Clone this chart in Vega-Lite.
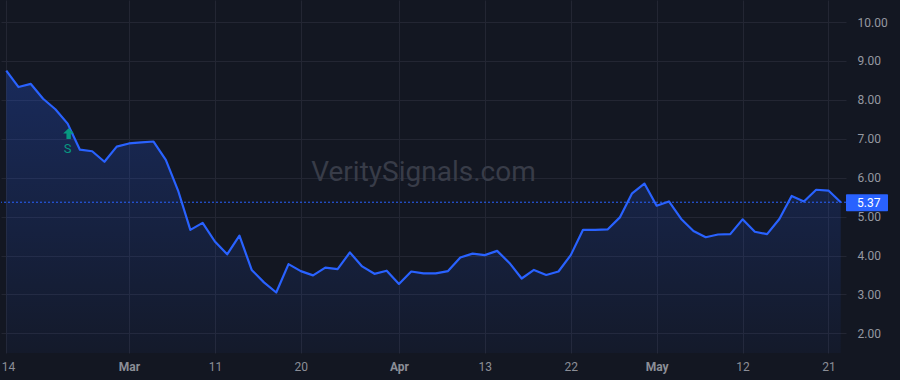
{
  "$schema": "https://vega.github.io/schema/vega-lite/v6.json",
  "width": 900,
  "height": 380,
  "autosize": {"type": "fit", "contains": "padding"},
  "padding": {"left": 0, "top": 0, "right": 12, "bottom": 8},
  "background": "#131722",
  "config": {"view": {"stroke": null}, "font": "Roboto"},
  "datasets": {
    "price": [
      {"i": 0, "v": 8.75}, {"i": 1, "v": 8.33}, {"i": 2, "v": 8.41}, {"i": 3, "v": 8.03},
      {"i": 4, "v": 7.76}, {"i": 5, "v": 7.39}, {"i": 6, "v": 6.72}, {"i": 7, "v": 6.68},
      {"i": 8, "v": 6.41}, {"i": 9, "v": 6.80}, {"i": 10, "v": 6.88}, {"i": 11, "v": 6.91},
      {"i": 12, "v": 6.93}, {"i": 13, "v": 6.46}, {"i": 14, "v": 5.67}, {"i": 15, "v": 4.66},
      {"i": 16, "v": 4.84}, {"i": 17, "v": 4.36}, {"i": 18, "v": 4.03}, {"i": 19, "v": 4.51},
      {"i": 20, "v": 3.63}, {"i": 21, "v": 3.31}, {"i": 22, "v": 3.05}, {"i": 23, "v": 3.78},
      {"i": 24, "v": 3.60}, {"i": 25, "v": 3.49}, {"i": 26, "v": 3.69}, {"i": 27, "v": 3.65},
      {"i": 28, "v": 4.08}, {"i": 29, "v": 3.72}, {"i": 30, "v": 3.53}, {"i": 31, "v": 3.61},
      {"i": 32, "v": 3.27}, {"i": 33, "v": 3.59}, {"i": 34, "v": 3.54}, {"i": 35, "v": 3.54},
      {"i": 36, "v": 3.60}, {"i": 37, "v": 3.95}, {"i": 38, "v": 4.05}, {"i": 39, "v": 4.01},
      {"i": 40, "v": 4.12}, {"i": 41, "v": 3.81}, {"i": 42, "v": 3.41}, {"i": 43, "v": 3.63},
      {"i": 44, "v": 3.50}, {"i": 45, "v": 3.59}, {"i": 46, "v": 4.01}, {"i": 47, "v": 4.66},
      {"i": 48, "v": 4.66}, {"i": 49, "v": 4.67}, {"i": 50, "v": 4.98}, {"i": 51, "v": 5.60},
      {"i": 52, "v": 5.85}, {"i": 53, "v": 5.28}, {"i": 54, "v": 5.39}, {"i": 55, "v": 4.94},
      {"i": 56, "v": 4.63}, {"i": 57, "v": 4.47}, {"i": 58, "v": 4.54}, {"i": 59, "v": 4.55},
      {"i": 60, "v": 4.93}, {"i": 61, "v": 4.61}, {"i": 62, "v": 4.55}, {"i": 63, "v": 4.94},
      {"i": 64, "v": 5.53}, {"i": 65, "v": 5.39}, {"i": 66, "v": 5.69}, {"i": 67, "v": 5.67},
      {"i": 68, "v": 5.37}
    ],
    "signal": [{"i": 5, "v": 7.39, "label": "S"}],
    "last": [{"v": 5.37, "label": "5.37"}],
    "watermark": [{"text": "VeritySignals.com"}]
  },
  "layer": [
    {
      "data": {"name": "watermark"},
      "mark": {"type": "text", "fontSize": 28, "font": "Roboto", "fill": "#383c48", "align": "center", "baseline": "middle", "dy": -4},
      "encoding": {
        "x": {"value": {"expr": "width/2"}},
        "y": {"value": {"expr": "height/2"}},
        "text": {"field": "text"}
      }
    },
    {
      "data": {"name": "price"},
      "mark": {
        "type": "area",
        "fill": {
          "gradient": "linear", "x1": 0, "y1": 0, "x2": 0, "y2": 1,
          "stops": [
            {"offset": 0, "color": "rgba(41,98,255,0.26)"},
            {"offset": 1, "color": "rgba(41,98,255,0.04)"}
          ]
        }
      },
      "encoding": {
        "x": {
          "field": "i", "type": "quantitative",
          "scale": {"domain": [-0.43, 68.43], "nice": false, "zero": false},
          "axis": {
            "orient": "bottom",
            "title": null,
            "values": [0, 10, 17, 24, 32, 39, 46, 53, 60, 67],
            "labelExpr": "{'0':'14','10':'Mar','17':'11','24':'20','32':'Apr','39':'13','46':'22','53':'May','60':'12','67':'21'}[datum.value + '']",
            "grid": true,
            "gridColor": "#232633",
            "gridWidth": 1,
            "ticks": false,
            "domain": false,
            "labelColor": "#8b8e97",
            "labelFontSize": 12,
            "labelPadding": 8,
            "labelFlush": 6,
            "labelFlushOffset": 5,
            "labelOverlap": false,
            "labelFontWeight": {"condition": {"test": "datum.value == 10 || datum.value == 32 || datum.value == 53", "value": "bold"}, "value": "normal"}
          }
        },
        "y": {
          "field": "v", "type": "quantitative",
          "scale": {"domain": [1.495, 10.567], "nice": false, "zero": false},
          "axis": {
            "orient": "right",
            "title": null,
            "values": [2, 3, 4, 5, 6, 7, 8, 9, 10],
            "format": ".2f",
            "grid": true,
            "gridColor": "#232633",
            "gridWidth": 1,
            "ticks": false,
            "domain": false,
            "labelColor": "#9598a1",
            "labelFontSize": 12,
            "labelPadding": 11,
            "labelFlush": false,
            "labelOverlap": false
          }
        },
        "y2": {"datum": 1.495}
      }
    },
    {
      "data": {"name": "price"},
      "mark": {"type": "line", "color": "#2962FF", "strokeWidth": 2.2, "strokeJoin": "round"},
      "encoding": {
        "x": {"field": "i", "type": "quantitative"},
        "y": {"field": "v", "type": "quantitative"}
      }
    },
    {
      "data": {"name": "last"},
      "mark": {"type": "rule", "color": "#2962FF", "strokeWidth": 1, "strokeDash": [2, 2]},
      "encoding": {
        "y": {"field": "v", "type": "quantitative"}
      }
    },
    {
      "data": {"name": "last"},
      "mark": {"type": "rect", "fill": "#2962FF", "x2Offset": 42, "yOffset": -8, "y2Offset": 9, "cornerRadius": 1},
      "encoding": {
        "x": {"value": "width"},
        "x2": {"value": "width"},
        "y": {"field": "v", "type": "quantitative"},
        "y2": {"field": "v"}
      }
    },
    {
      "data": {"name": "last"},
      "mark": {"type": "text", "fill": "#ffffff", "fontSize": 12, "align": "left", "baseline": "middle", "dx": 11, "dy": 1},
      "encoding": {
        "x": {"value": "width"},
        "y": {"field": "v", "type": "quantitative"},
        "text": {"field": "label"}
      }
    },
    {
      "data": {"name": "signal"},
      "mark": {"type": "point", "shape": "M-0.4,1L0.4,1L0.4,0L1,0L0,-1L-1,0L-0.4,0Z", "size": 120, "filled": true, "fill": "#089981", "opacity": 1, "yOffset": 10, "xOffset": 1},
      "encoding": {
        "x": {"field": "i", "type": "quantitative"},
        "y": {"field": "v", "type": "quantitative"}
      }
    },
    {
      "data": {"name": "signal"},
      "mark": {"type": "text", "fill": "#089981", "fontSize": 13, "align": "center", "baseline": "middle", "yOffset": 25},
      "encoding": {
        "x": {"field": "i", "type": "quantitative"},
        "y": {"field": "v", "type": "quantitative"},
        "text": {"field": "label"}
      }
    }
  ]
}
